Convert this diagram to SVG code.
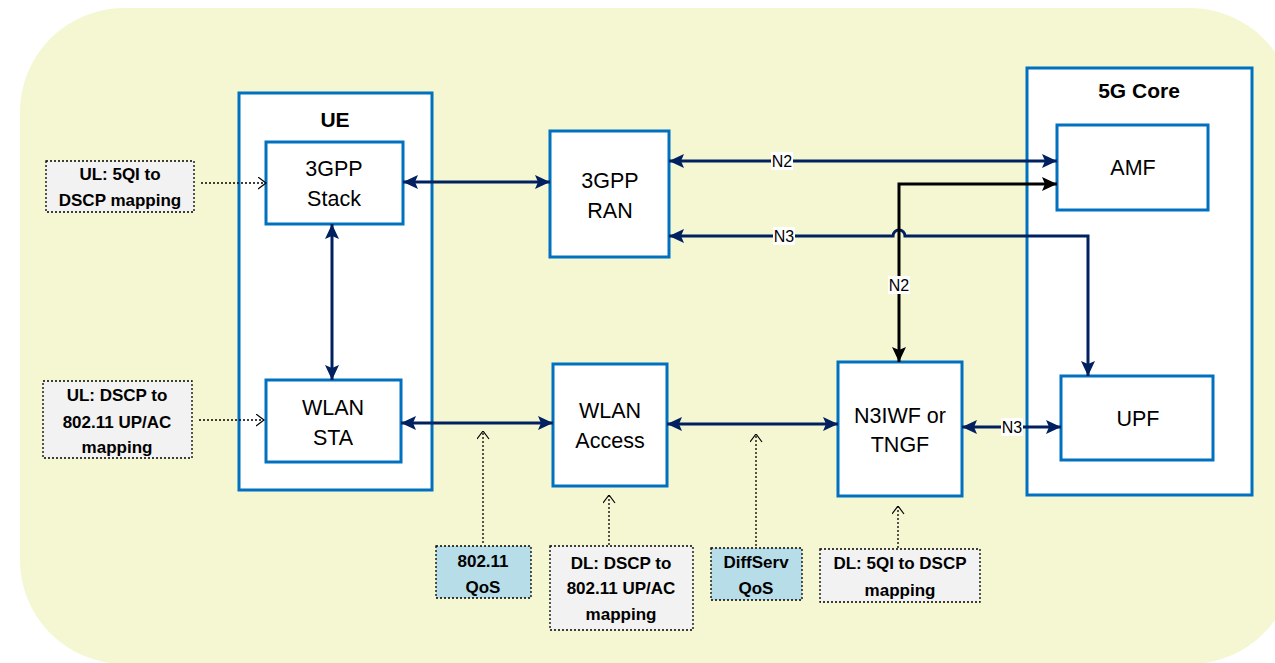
<svg xmlns="http://www.w3.org/2000/svg" width="1275" height="663" viewBox="0 0 1275 663">
<style>
.bg{fill:#F4F7D1;}
.box{fill:#fff;stroke:#0070C0;stroke-width:3;}
.t{font-family:"Liberation Sans",Arial,sans-serif;font-size:21.5px;fill:#000;text-anchor:middle;}
.tb{font-family:"Liberation Sans",Arial,sans-serif;font-size:21px;font-weight:bold;fill:#000;text-anchor:middle;}
.note{stroke:#000;stroke-width:1.3;stroke-dasharray:2 2;}
.grey{fill:#F2F2F2;}
.blue{fill:#B7DDE8;}
.nt{font-family:"Liberation Sans",Arial,sans-serif;font-size:17px;font-weight:bold;fill:#000;text-anchor:middle;}
.link{fill:none;stroke:#002060;stroke-width:3;}
.blk{fill:none;stroke:#000;stroke-width:3;}
.dot{fill:none;stroke:#000;stroke-width:1.3;stroke-dasharray:2 2;}
.lbl{font-family:"Liberation Sans",Arial,sans-serif;font-size:16px;fill:#000;text-anchor:middle;}
</style>
<defs>
<marker id="an" viewBox="0 0 15 14" refX="15" refY="7" markerWidth="15" markerHeight="14" markerUnits="userSpaceOnUse" orient="auto-start-reverse">
<path d="M0,0 L15,7 L0,14 L3,7 z" fill="#002060"/>
</marker>
<marker id="ab" viewBox="0 0 15 14" refX="15" refY="7" markerWidth="15" markerHeight="14" markerUnits="userSpaceOnUse" orient="auto-start-reverse">
<path d="M0,0 L15,7 L0,14 L3,7 z" fill="#000"/>
</marker>
<marker id="ao" viewBox="0 0 9 13" refX="8.5" refY="6.5" markerWidth="9" markerHeight="13" markerUnits="userSpaceOnUse" orient="auto">
<path d="M0.5,0.5 L8.5,6.5 L0.5,12.5" fill="none" stroke="#000" stroke-width="1.2"/>
</marker>
</defs>
<rect class="bg" x="20" y="8" width="1274" height="656" rx="104" ry="104"/>

<g id="ue">
<rect class="box" x="239" y="93" width="193" height="397"/>
<text class="tb" x="335" y="127">UE</text>
</g>
<g id="core5g">
<rect class="box" x="1027" y="68" width="225" height="427"/>
<text class="tb" x="1139" y="98">5G Core</text>
</g>
<g id="stack">
<rect class="box" x="266" y="142" width="137" height="82"/>
<text class="t" x="334" y="176">3GPP</text>
<text class="t" x="334" y="206">Stack</text>
</g>
<g id="sta">
<rect class="box" x="266" y="380" width="135" height="82"/>
<text class="t" x="333" y="415">WLAN</text>
<text class="t" x="333" y="445">STA</text>
</g>
<g id="ran">
<rect class="box" x="550" y="131" width="119" height="126"/>
<text class="t" x="610" y="188">3GPP</text>
<text class="t" x="610" y="218">RAN</text>
</g>
<g id="access">
<rect class="box" x="553" y="364" width="114" height="122"/>
<text class="t" x="610" y="418">WLAN</text>
<text class="t" x="610" y="448">Access</text>
</g>
<g id="n3iwf">
<rect class="box" x="838" y="362" width="124" height="134"/>
<text class="t" x="900" y="423">N3IWF or</text>
<text class="t" x="900" y="452">TNGF</text>
</g>
<g id="amf">
<rect class="box" x="1057" y="125" width="151" height="85"/>
<text class="t" x="1133" y="175">AMF</text>
</g>
<g id="upf">
<rect class="box" x="1061" y="376" width="152" height="84"/>
<text class="t" x="1138" y="426">UPF</text>
</g>

<g id="note-ul5qi">
<rect class="note grey" x="46" y="161" width="148" height="51"/>
<text class="nt" x="120" y="180">UL: 5QI to</text>
<text class="nt" x="120" y="206">DSCP mapping</text>
</g>
<g id="note-uldscp">
<rect class="note grey" x="43" y="381" width="149" height="77"/>
<text class="nt" x="117" y="401">UL: DSCP to</text>
<text class="nt" x="117" y="428">802.11 UP/AC</text>
<text class="nt" x="117" y="453">mapping</text>
</g>
<g id="note-80211qos">
<rect class="note blue" x="436" y="546" width="95" height="52"/>
<text class="nt" x="483" y="567">802.11</text>
<text class="nt" x="483" y="593">QoS</text>
</g>
<g id="note-dldscp">
<rect class="note grey" x="550" y="546" width="143" height="84"/>
<text class="nt" x="621" y="569">DL: DSCP to</text>
<text class="nt" x="621" y="594">802.11 UP/AC</text>
<text class="nt" x="621" y="620">mapping</text>
</g>
<g id="note-diffserv">
<rect class="note blue" x="711" y="548" width="91" height="52"/>
<text class="nt" x="756" y="568">DiffServ</text>
<text class="nt" x="756" y="594">QoS</text>
</g>
<g id="note-dl5qi">
<rect class="note grey" x="820" y="549" width="160" height="53"/>
<text class="nt" x="900" y="569">DL: 5QI to DSCP</text>
<text class="nt" x="900" y="596">mapping</text>
</g>

<g id="connectors">
<path class="link" d="M403,182 H550" marker-start="url(#an)" marker-end="url(#an)"/>
<path class="link" d="M332,224 V380" marker-start="url(#an)" marker-end="url(#an)"/>
<path class="link" d="M401,423 H553" marker-start="url(#an)" marker-end="url(#an)"/>
<path class="link" d="M667,424 H838" marker-start="url(#an)" marker-end="url(#an)"/>
<path class="link" d="M962,427 H1061" marker-start="url(#an)" marker-end="url(#an)"/>
<path class="link" d="M669,161 H1057" marker-start="url(#an)" marker-end="url(#an)"/>
<path class="link" d="M669,236 H893 a6,6 0 0 1 12,0 H1088 V376" marker-start="url(#an)" marker-end="url(#an)"/>
<path class="blk" d="M1057,184 H899 V362" marker-start="url(#ab)" marker-end="url(#ab)"/>

<rect x="771" y="152" width="22" height="18" fill="#fff"/>
<text class="lbl" x="782" y="167">N2</text>
<rect x="773" y="227" width="22" height="18" fill="#fff"/>
<text class="lbl" x="784" y="242">N3</text>
<rect x="888" y="276" width="22" height="18" fill="#fff"/>
<text class="lbl" x="899" y="291">N2</text>
<rect x="1001" y="418" width="22" height="18" fill="#fff"/>
<text class="lbl" x="1012" y="433">N3</text>

<path class="dot" d="M201,183 H266" marker-end="url(#ao)"/>
<path class="dot" d="M199,420 H264" marker-end="url(#ao)"/>
<path class="dot" d="M483,543 V431" marker-end="url(#ao)"/>
<path class="dot" d="M609,545 V495" marker-end="url(#ao)"/>
<path class="dot" d="M756,546 V434" marker-end="url(#ao)"/>
<path class="dot" d="M898,548 V506" marker-end="url(#ao)"/>
</g>
</svg>
